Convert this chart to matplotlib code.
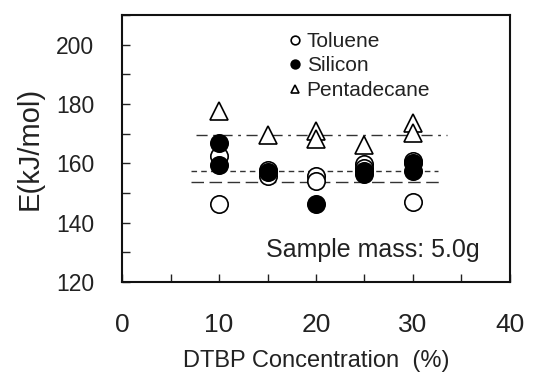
import matplotlib.pyplot as plt
import numpy as np
from matplotlib.ticker import MultipleLocator

plt.rcParams['font.family'] = ['Liberation Sans', 'DejaVu Sans']

# DTBP concentration (%) and activation energy E (kJ/mol)
tol_x = [10, 10, 15, 15, 20, 20, 25, 25, 30, 30]
tol_y = [162.4, 146.3, 157.9, 155.8, 155.6, 153.9, 159.8, 158.4, 160.7, 146.9]

sil_x = [10, 10, 15, 20, 25, 25, 30, 30]
sil_y = [167.0, 159.6, 157.0, 146.3, 157.5, 156.5, 160.1, 157.3]

pen_x = [10, 15, 20, 20, 25, 30, 30]
pen_y = [177.6, 169.7, 170.8, 168.3, 166.3, 173.5, 170.3]

# average lines: (x start, x end, level)
pen_avg = (7.6, 33.5, 169.5)
sil_avg = (7.1, 32.6, 157.3)
tol_avg = (7.1, 33.0, 153.6)

fig = plt.figure(figsize=(5.34, 3.74), dpi=100)
ax = fig.add_axes([0.2285, 0.246, 0.7265, 0.714])

ms = 12.5
ax.plot(tol_x, tol_y, 'o', ms=ms, mfc='white', mec='black', mew=1.2, label='Toluene', zorder=3)
ax.plot(sil_x, sil_y, 'o', ms=ms, mfc='black', mec='black', mew=1.2, label='Silicon', zorder=3)
ax.plot(pen_x, pen_y, '^', ms=ms, mfc='white', mec='black', mew=1.2, label='Pentadecane', zorder=3)

lc = '#333333'
ax.plot(pen_avg[:2], [pen_avg[2]] * 2, color=lc, lw=1, dashes=(8, 4, 2, 4), zorder=2)
ax.plot(sil_avg[:2], [sil_avg[2]] * 2, color=lc, lw=1, dashes=(4, 3), zorder=2)
ax.plot(tol_avg[:2], [tol_avg[2]] * 2, color=lc, lw=1, dashes=(9, 4), zorder=2)

ax.set_xlim(0, 40)
ax.set_ylim(120, 210)
ax.xaxis.set_major_locator(MultipleLocator(10))
ax.xaxis.set_minor_locator(MultipleLocator(5))
ax.yaxis.set_major_locator(MultipleLocator(20))
ax.yaxis.set_minor_locator(MultipleLocator(10))
ax.set_yticks([120, 140, 160, 180, 200])

ax.tick_params(axis='both', which='both', direction='in', length=6, width=1, color='#222222')
ax.tick_params(axis='x', which='major', labelsize=19, pad=22, labelcolor='#222222')
ax.tick_params(axis='y', which='major', labelsize=16.5, pad=20, labelcolor='#222222')
for s in ax.spines.values():
    s.set_linewidth(1.5)
    s.set_color('#111111')

ax.set_xlabel('DTBP Concentration  (%)', fontsize=17, color='#222222', labelpad=10)
ax.set_ylabel('E(kJ/mol)', fontsize=21, color='#222222', labelpad=9)

ax.text(14.85, 130.7, 'Sample mass: 5.0g', fontsize=18, color='#222222', va='center')

leg = ax.legend(loc='upper left', bbox_to_anchor=(0.425, 0.936), frameon=False,
                fontsize=15, markerscale=0.5, handlelength=0.75, handletextpad=0.2,
                labelspacing=0.26, borderpad=0, borderaxespad=0)
for t in leg.get_texts():
    t.set_color('#222222')

fig.savefig('out.png', dpi=100)
